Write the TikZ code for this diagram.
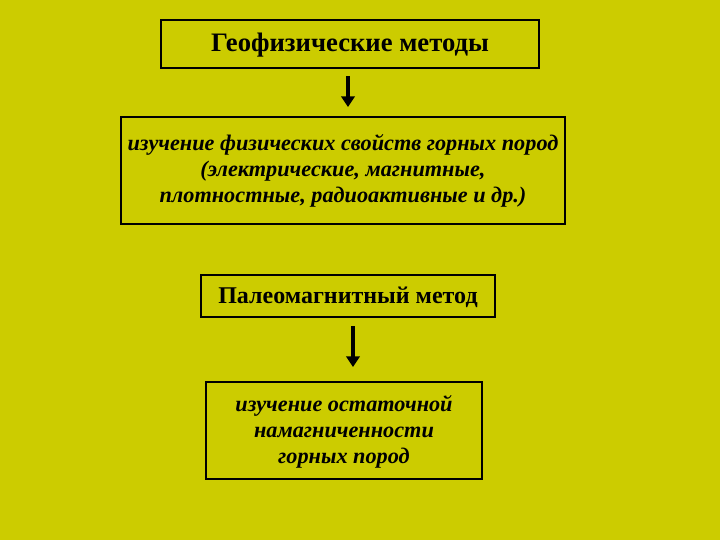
\documentclass[tikz,border=0pt]{standalone}
\usepackage{fontspec}
\setmainfont{Liberation Serif}
\usetikzlibrary{arrows.meta}
\definecolor{bg}{RGB}{204,204,0}
\begin{document}
\begin{tikzpicture}[x=0.75pt,y=-0.75pt,
  box/.style={draw=black,line width=0.8pt,inner sep=0pt},
  txt/.style={align=center,font=\fontsize{16.7}{19.5}\selectfont\bfseries}]
\fill[bg] (0,0) rectangle (720,540);
\node[box,minimum width=378*0.75pt,minimum height=48*0.75pt] (b1) at (350,44) {};
\node[txt,font=\fontsize{20}{24}\selectfont\bfseries] (t1) at (350,45) {Геофизические методы};
\node[box,minimum width=444*0.75pt,minimum height=107*0.75pt] (b2) at (343,170.5) {};
\node[txt,font=\fontsize{16.7}{19.5}\selectfont\bfseries\itshape] (t2) at (343,171) {изучение физических свойств горных пород\\(электрические, магнитные,\\плотностные, радиоактивные и др.)};
\node[box,minimum width=294*0.75pt,minimum height=42*0.75pt] (b3) at (348,296) {};
\node[txt,font=\fontsize{18}{22}\selectfont\bfseries] (t3) at (348,297) {Палеомагнитный метод};
\node[box,minimum width=276*0.75pt,minimum height=97*0.75pt] (b4) at (344,430.5) {};
\node[txt,font=\fontsize{16.7}{19.5}\selectfont\bfseries\itshape] (t4) at (344,432) {изучение остаточной\\намагниченности\\горных пород};
\coordinate (a1s) at (348,76); \coordinate (a1e) at (348,107);
\coordinate (a2s) at (353,326); \coordinate (a2e) at (353,367);
\draw[line width=3pt,-{Triangle[length=8pt,width=10pt]}] (a1s) -- (a1e);
\draw[line width=3pt,-{Triangle[length=8pt,width=10pt]}] (a2s) -- (a2e);
\end{tikzpicture}
\end{document}
